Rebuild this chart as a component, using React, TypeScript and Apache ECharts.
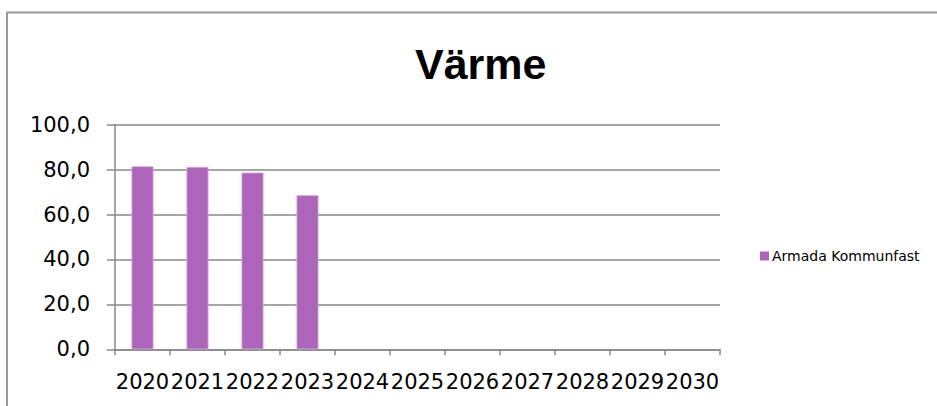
import React, { useEffect, useRef } from "react";
import * as echarts from "echarts";

const years = ["2020", "2021", "2022", "2023", "2024", "2025", "2026", "2027", "2028", "2029", "2030"];
const armadaValues: (number | null)[] = [81.5, 81.2, 78.7, 68.6, null, null, null, null, null, null, null];
const seriesName = "Armada Kommunfast";
const titleText = "Värme";

export default function App() {
  const ref = useRef<HTMLDivElement>(null);
  useEffect(() => {
    if (!ref.current) return;
    const chart = echarts.init(ref.current, null, { renderer: "svg" });
    chart.setOption({
      animation: false,
      backgroundColor: "#ffffff",
      title: {
        text: titleText,
        left: 415,
        top: 42,
        padding: 0,
        textStyle: { fontFamily: "Liberation Sans", fontWeight: "bold", fontSize: 43, color: "#000" },
      },
      graphic: [
        {
          type: "rect",
          shape: { x: 7, y: 12.5, width: 1000, height: 600 },
          style: { fill: "none", stroke: "#9a9a9a", lineWidth: 2 },
          silent: true,
        },
      ],
      legend: {
        data: [seriesName],
        left: 760,
        top: 249,
        padding: 0,
        icon: "rect",
        itemWidth: 9,
        itemHeight: 9,
        itemStyle: { borderWidth: 0 },
        textStyle: { fontFamily: "DejaVu Sans", fontSize: 14, color: "#000", padding: [0, 0, 0, -2] },
      },
      grid: { left: 115, right: 217, top: 124.7, bottom: 56.7, containLabel: false },
      xAxis: {
        type: "category",
        data: years,
        axisLine: { lineStyle: { color: "#888", width: 1.5 } },
        axisTick: { show: true, length: 6, lineStyle: { color: "#888", width: 1.5 } },
        axisLabel: {
          interval: 0,
          margin: 22,
          fontFamily: "DejaVu Sans",
          fontSize: 21,
          color: "#000",
        },
      },
      yAxis: {
        type: "value",
        min: 0,
        max: 100,
        interval: 20,
        axisLine: { show: true, lineStyle: { color: "#888", width: 1.5 } },
        axisTick: { show: true, length: 8, lineStyle: { color: "#888", width: 1.5 } },
        splitLine: { lineStyle: { color: "#888", width: 1.5 } },
        axisLabel: {
          margin: 25,
          fontFamily: "DejaVu Sans",
          fontSize: 21,
          color: "#000",
          formatter: (v: number) => v.toFixed(1).replace(".", ","),
        },
      },
      series: [
        {
          name: seriesName,
          type: "bar",
          data: armadaValues,
          barWidth: "40%",
          itemStyle: { color: "#AD64BB", borderColor: "#D7ABDF", borderWidth: 0.8 },
        },
      ],
    });
    return () => chart.dispose();
  }, []);
  return (
    <div
      ref={ref}
      style={{ position: "fixed", left: 0, top: 0, width: 937, height: 406 }}
    />
  );
}
